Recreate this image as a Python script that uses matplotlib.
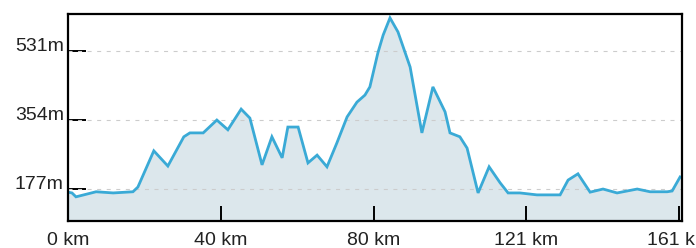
import matplotlib
matplotlib.use("Agg")
import matplotlib.pyplot as plt

# distance (km) and elevation (m)
distance_km = [0.0, 1.05, 2.1, 7.4, 11.9, 17.1, 18.4, 22.6, 26.3, 30.5, 32.1, 35.6, 39.2,
               42.1, 45.6, 47.9, 51.1, 53.7, 56.4, 57.9, 60.6, 63.2, 65.6, 68.2, 70.8,
               73.5, 76.1, 78.2, 79.5, 81.6, 83.0, 84.8, 86.9, 90.1, 93.2, 96.1, 99.3,
               100.6, 103.2, 105.1, 108.0, 110.9, 113.8, 115.9, 119.0, 123.5, 129.6,
               131.7, 134.3, 137.5, 140.9, 144.6, 149.9, 153.3, 157.8, 159.1, 161.2]
elevation_m = [168, 166, 156, 169, 166, 169, 181, 274, 235, 310, 320, 320, 353,
               328, 381, 358, 238, 310, 256, 335, 335, 243, 263, 233, 294,
               361, 399, 417, 438, 525, 571, 615, 579, 489, 320, 438, 374,
               320, 310, 281, 166, 233, 192, 166, 166, 161, 161,
               199, 215, 168, 176, 166, 176, 169, 169, 171, 207]

x_ticks = [0, 40.23, 80.47, 120.7, 160.93]
x_labels = ["0 km", "40 km", "80 km", "121 km", "161 km"]
y_ticks = [177, 354, 531]
y_labels = ["177m", "354m", "531m"]

plt.rcParams['font.family'] = ['Liberation Sans', 'DejaVu Sans']

W, H = 696, 248
fig = plt.figure(figsize=(W / 100, H / 100), dpi=100)
ax = fig.add_axes([68 / W, (H - 221) / H, (682 - 68) / W, (221 - 14) / H])

line_color = "#3aaad6"
fill_color = "#dce7ec"

ax.fill_between(distance_km, elevation_m, 0, color=fill_color, lw=0, zorder=1)
ax.plot(distance_km, elevation_m, color=line_color, lw=2.0, zorder=3,
        solid_joinstyle='miter')

ax.set_xlim(0, 161.7)
ax.set_ylim(94, 625)

for yv in y_ticks:
    ax.axhline(yv, color="#cccccc", lw=0.8, dashes=(3.6, 5.0), zorder=2)

ax.set_xticks(x_ticks)
ax.set_xticklabels(x_labels)
ax.set_yticks(y_ticks)
ax.set_yticklabels(y_labels)

ax.tick_params(axis='y', direction='in', length=13, width=1.4, color='black',
               labelsize=14, pad=3, labelcolor='#222222')
ax.tick_params(axis='x', direction='in', length=11, width=1.4, color='black',
               labelsize=14, pad=8, labelcolor='#222222')
for lab in ax.get_yticklabels():
    lab.set_va('baseline')

for s in ax.spines.values():
    s.set_linewidth(1.6)
    s.set_color('black')
    s.set_zorder(5)

fig.savefig("out.png", dpi=100)
